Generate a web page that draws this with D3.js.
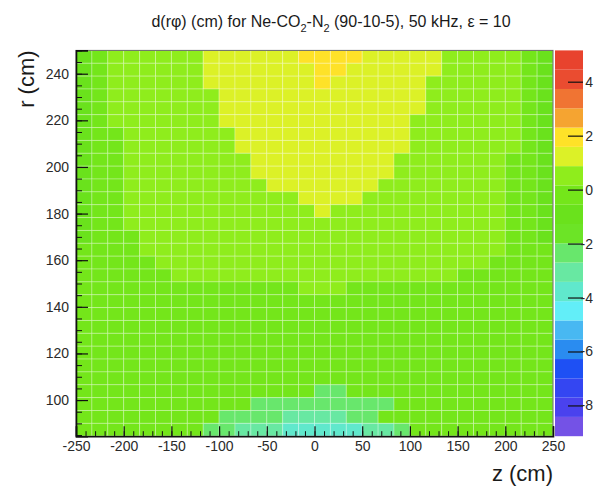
<!DOCTYPE html>
<html>
<head>
<meta charset="utf-8">
<script src="https://cdn.jsdelivr.net/npm/d3@7"></script>
<style>
  body { margin: 0; background: #fff; }
  svg { display: block; }
  text { font-family: "Liberation Sans", Arial, Helvetica, sans-serif; }
</style>
</head>
<body>
<svg id="chart" width="604" height="486"></svg>
<script>
// Histogram binning: 30 bins in z (cm) and 30 bins in r (cm)
const zRange = [-250, 250];
const rRange = [84.5, 250];
const nZ = 30;
const nR = 30;

// Colour-axis range and the 20 contour colours (lowest to highest)
const zMin = -9.14;
const zMax = 5.16;
const contourColors = [
  "#7452e6", "#4a42ee", "#3446f2", "#1e50f4", "#2a8cf0",
  "#48b8f2", "#62eef8", "#60e8cc", "#68e8a2", "#68e76c",
  "#6ce426", "#6ae21c", "#74e61a", "#8fed1c", "#dcf127",
  "#fee228", "#f5a431", "#f07433", "#ea4c30", "#e8432e"
];

// Tick labels
const xTicks = [-250, -200, -150, -100, -50, 0, 50, 100, 150, 200, 250];
const yTicks = [100, 120, 140, 160, 180, 200, 220, 240];
const colorTicks = [-8, -6, -4, -2, 0, 2, 4];

// d(r phi) in cm; first row is the outermost r bin, columns run from z = -250 to z = 250
const cellValues = [
  [-0.9,-0.2,0.5,0.5,0.5,0.5,0.5,0.5,1.2,1.2,1.2,1.2,1.2,1.3,1.9,2.0,1.9,1.8,1.3,1.2,1.2,1.2,1.1,0.5,0.5,0.5,0.5,0.4,-0.2,-0.9],
  [-0.9,-0.2,0.5,0.5,0.5,0.5,0.5,0.6,1.2,1.2,1.2,1.2,1.2,1.3,1.4,1.8,1.8,1.4,1.3,1.2,1.2,1.2,1.1,0.5,0.5,0.5,0.5,0.4,-0.2,-0.9],
  [-0.9,-0.2,0.4,0.5,0.5,0.5,0.5,0.6,1.1,1.2,1.2,1.2,1.3,1.3,1.4,1.7,1.5,1.3,1.3,1.2,1.2,1.0,0.6,0.5,0.5,0.5,0.5,0.4,-0.2,-0.9],
  [-0.9,-0.2,0.4,0.5,0.5,0.5,0.5,0.6,0.7,1.1,1.2,1.2,1.3,1.3,1.3,1.4,1.4,1.3,1.3,1.2,1.2,1.0,0.7,0.5,0.5,0.5,0.5,0.4,-0.2,-0.9],
  [-0.9,-0.2,0.4,0.5,0.5,0.5,0.5,0.6,0.7,1.0,1.1,1.2,1.2,1.3,1.3,1.4,1.3,1.3,1.2,1.2,1.1,0.9,0.7,0.5,0.5,0.5,0.5,0.4,-0.2,-0.9],
  [-0.8,-0.1,0.3,0.5,0.5,0.5,0.5,0.6,0.7,1.0,1.1,1.2,1.2,1.3,1.3,1.3,1.3,1.3,1.2,1.1,1.0,0.8,0.7,0.6,0.5,0.5,0.5,0.4,-0.2,-0.8],
  [-0.8,-0.2,-0.1,0.4,0.5,0.5,0.5,0.6,0.7,0.8,1.0,1.1,1.2,1.2,1.3,1.3,1.3,1.2,1.2,1.1,1.0,0.8,0.7,0.6,0.5,0.5,0.5,0.3,-0.1,-0.8],
  [-0.8,-0.2,-0.1,0.4,0.5,0.5,0.5,0.6,0.7,0.8,0.9,1.1,1.1,1.2,1.2,1.2,1.2,1.2,1.1,1.0,0.9,0.8,0.7,0.6,0.5,0.5,0.5,0.3,-0.1,-0.8],
  [-0.8,-0.2,-0.1,0.3,0.4,0.5,0.5,0.6,0.6,0.7,0.8,0.9,1.0,1.1,1.1,1.2,1.1,1.1,1.0,0.9,0.8,0.7,0.6,0.6,0.5,0.4,0.3,0.0,-0.2,-0.8],
  [-0.8,-0.2,-0.1,0.3,0.4,0.5,0.5,0.5,0.6,0.7,0.8,0.9,1.0,1.0,1.1,1.1,1.1,1.0,1.0,0.9,0.8,0.7,0.6,0.6,0.5,0.4,0.3,0.0,-0.2,-0.8],
  [-0.7,-0.2,-0.1,0.3,0.4,0.4,0.5,0.5,0.6,0.7,0.7,0.8,0.9,1.0,1.0,1.1,1.0,1.0,0.9,0.8,0.7,0.7,0.6,0.5,0.5,0.4,0.3,0.0,-0.2,-0.7],
  [-0.7,-0.2,-0.1,0.2,0.3,0.4,0.5,0.5,0.6,0.6,0.7,0.7,0.8,0.8,0.9,1.0,0.9,0.9,0.8,0.7,0.7,0.6,0.6,0.5,0.4,0.3,0.2,0.0,-0.2,-0.7],
  [-0.7,-0.2,-0.1,0.2,0.3,0.4,0.4,0.5,0.5,0.6,0.6,0.7,0.7,0.8,0.8,0.9,0.8,0.8,0.7,0.7,0.6,0.6,0.5,0.5,0.4,0.3,0.2,0.0,-0.2,-0.7],
  [-0.6,-0.2,-0.1,0.2,0.3,0.3,0.4,0.4,0.5,0.5,0.6,0.6,0.6,0.7,0.7,0.7,0.7,0.7,0.6,0.6,0.6,0.5,0.5,0.4,0.4,0.3,0.2,0.0,-0.1,-0.6],
  [-0.6,-0.2,-0.1,0.0,0.2,0.3,0.3,0.4,0.4,0.5,0.5,0.5,0.6,0.6,0.6,0.7,0.6,0.6,0.6,0.5,0.5,0.5,0.4,0.4,0.3,0.3,0.2,0.0,-0.1,-0.6],
  [-0.4,-0.3,-0.2,0.0,0.2,0.2,0.3,0.3,0.4,0.4,0.4,0.5,0.5,0.5,0.5,0.6,0.5,0.5,0.5,0.5,0.4,0.4,0.4,0.3,0.3,0.2,0.2,0.0,-0.2,-0.4],
  [-0.4,-0.3,-0.2,-0.1,0.0,0.2,0.2,0.3,0.3,0.3,0.4,0.4,0.4,0.4,0.5,0.5,0.5,0.4,0.4,0.4,0.4,0.3,0.3,0.3,0.2,0.2,0.0,-0.1,-0.2,-0.4],
  [-0.4,-0.3,-0.2,-0.1,0.0,0.1,0.2,0.2,0.2,0.3,0.3,0.3,0.3,0.3,0.4,0.4,0.4,0.3,0.3,0.3,0.3,0.3,0.2,0.2,0.1,0.0,-0.1,-0.1,-0.2,-0.4],
  [-0.4,-0.3,-0.2,-0.1,-0.1,0.0,0.0,0.0,0.1,0.1,0.1,0.1,0.1,0.1,0.2,0.2,0.2,0.1,0.1,0.1,0.1,0.1,0.0,0.0,0.0,0.0,-0.1,-0.1,-0.2,-0.4],
  [-0.4,-0.3,-0.2,-0.2,-0.1,-0.1,0.0,0.0,0.0,0.0,0.0,0.0,0.0,0.1,0.1,0.1,0.1,0.1,0.0,0.0,0.0,0.0,0.0,0.0,-0.1,-0.1,-0.1,-0.2,-0.3,-0.4],
  [-0.4,-0.3,-0.3,-0.2,-0.2,-0.1,-0.1,-0.1,0.0,0.0,0.0,0.0,0.0,0.0,0.0,0.0,0.0,0.0,0.0,0.0,0.0,0.0,-0.1,-0.1,-0.1,-0.1,-0.2,-0.2,-0.3,-0.4],
  [-0.4,-0.3,-0.3,-0.2,-0.2,-0.2,-0.1,-0.1,-0.1,-0.1,-0.1,-0.1,-0.1,-0.1,-0.1,-0.1,-0.1,-0.1,-0.1,-0.1,-0.1,-0.1,-0.1,-0.1,-0.1,-0.2,-0.2,-0.2,-0.3,-0.4],
  [-0.4,-0.3,-0.3,-0.3,-0.2,-0.2,-0.2,-0.2,-0.2,-0.2,-0.2,-0.2,-0.2,-0.2,-0.2,-0.2,-0.2,-0.2,-0.2,-0.2,-0.2,-0.2,-0.2,-0.2,-0.2,-0.2,-0.2,-0.3,-0.3,-0.4],
  [-0.4,-0.3,-0.3,-0.3,-0.3,-0.3,-0.3,-0.3,-0.3,-0.3,-0.3,-0.3,-0.3,-0.3,-0.3,-0.3,-0.3,-0.3,-0.3,-0.3,-0.3,-0.3,-0.3,-0.3,-0.3,-0.3,-0.3,-0.3,-0.3,-0.4],
  [-0.4,-0.4,-0.3,-0.3,-0.3,-0.3,-0.3,-0.3,-0.3,-0.4,-0.4,-0.4,-0.4,-0.4,-0.4,-0.4,-0.4,-0.4,-0.4,-0.4,-0.4,-0.3,-0.3,-0.3,-0.3,-0.3,-0.3,-0.3,-0.4,-0.4],
  [-0.4,-0.4,-0.3,-0.3,-0.3,-0.3,-0.3,-0.4,-0.4,-0.4,-0.4,-0.5,-0.5,-0.5,-0.5,-0.5,-0.5,-0.5,-0.5,-0.5,-0.4,-0.4,-0.4,-0.3,-0.3,-0.3,-0.3,-0.3,-0.4,-0.4],
  [-0.4,-0.4,-0.3,-0.3,-0.3,-0.3,-0.4,-0.4,-0.4,-0.4,-0.5,-0.5,-0.5,-0.5,-0.5,-2.1,-2.1,-0.5,-0.5,-0.5,-0.5,-0.4,-0.4,-0.4,-0.3,-0.3,-0.3,-0.3,-0.4,-0.4],
  [-0.4,-0.4,-0.3,-0.3,-0.3,-0.4,-0.4,-0.4,-0.5,-0.5,-0.5,-2.1,-2.2,-2.3,-2.4,-2.5,-2.5,-2.4,-2.3,-2.1,-0.5,-0.5,-0.4,-0.4,-0.3,-0.3,-0.3,-0.3,-0.4,-0.4],
  [-0.4,-0.4,-0.3,-0.3,-0.3,-0.4,-0.4,-0.5,-0.5,-2.1,-2.2,-2.4,-2.6,-2.9,-3.1,-3.2,-3.0,-2.6,-2.3,-0.5,-0.5,-0.4,-0.4,-0.4,-0.3,-0.3,-0.3,-0.3,-0.4,-0.4],
  [-0.4,-0.4,-0.3,-0.3,-0.3,-0.4,-0.4,-0.5,-2.0,-2.2,-2.8,-3.0,-3.2,-3.5,-3.7,-3.9,-3.8,-3.6,-3.1,-2.8,-2.2,-0.5,-0.4,-0.4,-0.3,-0.3,-0.3,-0.3,-0.4,-0.4]
];

const svg = d3.select("#chart");

// Plot frame
const plot = { left: 76, right: 553, top: 50.4, bottom: 436.2 };
const bar = { left: 555, right: 583 };

const x = d3.scaleLinear().domain(zRange).range([plot.left, plot.right]);
const y = d3.scaleLinear().domain(rRange).range([plot.bottom, plot.top]);

// Colour map: 20 equal contours between zMin and zMax
const color = d3.scaleQuantize().domain([zMin, zMax]).range(contourColors);

const zStep = (zRange[1] - zRange[0]) / nZ;
const rStep = (rRange[1] - rRange[0]) / nR;

const cells = [];
cellValues.forEach((row, i) => {
  const rHi = rRange[1] - i * rStep;
  row.forEach((v, j) => {
    const zLo = zRange[0] + j * zStep;
    cells.push({ z0: zLo, z1: zLo + zStep, r0: rHi - rStep, r1: rHi, v });
  });
});

svg.append("g")
  .selectAll("rect")
  .data(cells)
  .join("rect")
  .attr("x", d => x(d.z0))
  .attr("y", d => y(d.r1))
  .attr("width", d => x(d.z1) - x(d.z0))
  .attr("height", d => y(d.r0) - y(d.r1))
  .attr("fill", d => color(d.v))
  .attr("stroke", "#ffffff")
  .attr("stroke-opacity", 0.28)
  .attr("stroke-width", 1);

// Frame outline
svg.append("rect")
  .attr("x", plot.left).attr("y", plot.top)
  .attr("width", plot.right - plot.left).attr("height", plot.bottom - plot.top)
  .attr("fill", "none").attr("stroke", "#6a6a6a").attr("stroke-width", 1);

const fmt = d => String(d);

// Left axis: major ticks every 20 cm, minor every 5 cm, pointing inwards
const yMinor = d3.range(85, 251, 5);
svg.append("g")
  .attr("transform", `translate(${plot.left},0)`)
  .call(d3.axisLeft(y).tickValues(yMinor).tickSize(-6).tickFormat(""))
  .call(g => g.select(".domain").remove())
  .call(g => g.selectAll("line").attr("stroke", "#111"));
const yAxis = svg.append("g")
  .attr("transform", `translate(${plot.left},0)`)
  .call(d3.axisLeft(y).tickValues(yTicks).tickSize(-12).tickPadding(7).tickFormat(fmt));
yAxis.select(".domain").attr("stroke", "#111").attr("stroke-width", 1.6);
yAxis.selectAll("line").attr("stroke", "#111").attr("stroke-width", 1.2);
yAxis.selectAll("text").attr("font-size", 14).attr("fill", "#2a2a2a");

// Bottom axis: major ticks every 50 cm, minor every 10 cm
const xMinor = d3.range(-250, 251, 10);
svg.append("g")
  .attr("transform", `translate(0,${plot.bottom})`)
  .call(d3.axisBottom(x).tickValues(xMinor).tickSize(-5).tickFormat(""))
  .call(g => g.select(".domain").remove())
  .call(g => g.selectAll("line").attr("stroke", "#111"));
const xAxis = svg.append("g")
  .attr("transform", `translate(0,${plot.bottom})`)
  .call(d3.axisBottom(x).tickValues(xTicks).tickSize(-10).tickPadding(5).tickFormat(fmt));
xAxis.select(".domain").attr("stroke", "#111").attr("stroke-width", 1.6);
xAxis.selectAll("line").attr("stroke", "#111").attr("stroke-width", 1.2);
xAxis.selectAll("text").attr("font-size", 14).attr("fill", "#2a2a2a");

// Colour bar
const cy = d3.scaleLinear().domain([zMin, zMax]).range([plot.bottom, plot.top]);
const levels = contourColors.map(c => {
  const [a, b] = color.invertExtent(c);
  return { a, b, c };
});
svg.append("g")
  .selectAll("rect")
  .data(levels)
  .join("rect")
  .attr("x", bar.left)
  .attr("y", d => cy(d.b))
  .attr("width", bar.right - bar.left)
  .attr("height", d => cy(d.a) - cy(d.b))
  .attr("fill", d => d.c);

const cAxis = svg.append("g")
  .attr("transform", `translate(${bar.right},0)`)
  .call(d3.axisRight(cy).tickValues(colorTicks).tickSize(-15).tickPadding(3).tickFormat(fmt));
cAxis.select(".domain").remove();
cAxis.selectAll("line").attr("stroke", "#111").attr("stroke-width", 1.2);
cAxis.selectAll("text")
  .attr("font-size", 14).attr("fill", "#2a2a2a")
  .attr("text-anchor", "end").attr("x", 10);

// Axis titles
svg.append("text")
  .attr("x", plot.right).attr("y", 481)
  .attr("text-anchor", "end")
  .attr("font-size", 22).attr("fill", "#1a1a1a")
  .text("z (cm)");

svg.append("text")
  .attr("transform", `translate(34,${plot.top}) rotate(-90)`)
  .attr("text-anchor", "end")
  .attr("font-size", 22).attr("fill", "#1a1a1a")
  .text("r (cm)");

// Title with subscripts
const title = svg.append("text")
  .attr("x", 331).attr("y", 27)
  .attr("text-anchor", "middle")
  .attr("font-size", 16).attr("fill", "#1a1a1a");
title.append("tspan").text("d(rφ) (cm) for Ne-CO");
title.append("tspan").attr("font-size", 11).attr("dy", 5).text("2");
title.append("tspan").attr("dy", -5).text("-N");
title.append("tspan").attr("font-size", 11).attr("dy", 5).text("2");
title.append("tspan").attr("dy", -5).text(" (90-10-5), 50 kHz, ε = 10");
</script>
</body>
</html>
